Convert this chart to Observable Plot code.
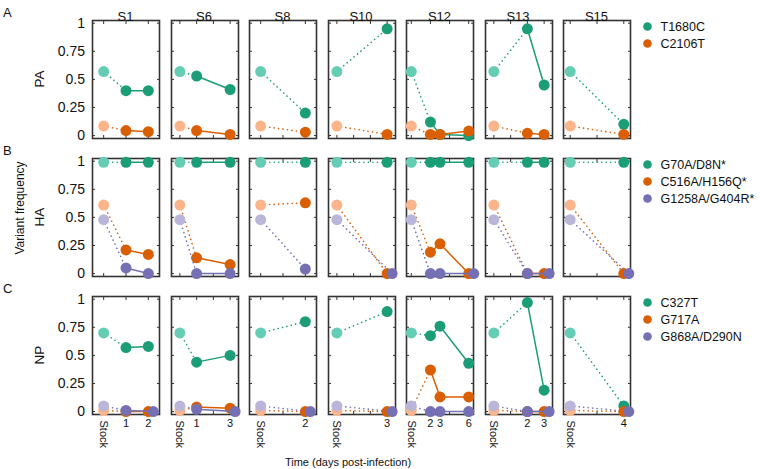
<!DOCTYPE html>
<html><head><meta charset="utf-8">
<script src="https://cdn.jsdelivr.net/npm/d3@7"></script>
<script src="https://cdn.jsdelivr.net/npm/@observablehq/plot@0.6"></script>
<style>
body{margin:0;background:#fff;}
#chart{position:relative;width:760px;height:469px;font-family:"Liberation Sans",Arial,sans-serif;color:#111;overflow:hidden;background:#fff}
.lab{position:absolute;white-space:nowrap;line-height:1}
.rot{transform:translate(-50%,-50%) rotate(-90deg)}
.ctr{transform:translate(-50%,-50%)}
#chart svg{overflow:visible}
</style></head><body><div id="chart"></div>
<script>
// ---- data ----
const samples = ["S1","S6","S8","S10","S12","S13","S15"];
const sampleDays = [[0,1,2],[0,1,3],[0,2],[0,3],[0,2,3,6],[0,2,3],[0,4]];
const genes = ["PA","HA","NP"];
const rowLetters = ["A","B","C"];
const paVariants = ["T1680C","C2106T"];
const haVariants = ["G70A/D8N*","C516A/H156Q*","G1258A/G404R*"];
const npVariants = ["C327T","G717A","G868A/D290N"];
const yTicks = [0,0.25,0.5,0.75,1];
const yTickLabels = ["0","0.25","0.5","0.75","1"];
const xTitle = "Time (days post-infection)";
const yTitle = "Variant frequency";
const stockLabel = "Stock";

// values per sample: [stock, day1, day2, ...]
const paT1680C = [[0.57,0.40,0.40],[0.57,0.53,0.41],[0.57,0.20],[0.57,0.95],[0.57,0.12,0.01,0.0],[0.57,0.95,0.45],[0.57,0.10]];
const paC2106T = [[0.085,0.045,0.035],[0.085,0.045,0.01],[0.085,0.03],[0.085,0.01],[0.085,0.01,0.01,0.04],[0.085,0.02,0.01],[0.085,0.01]];
const haG70A = [[0.99,0.99,0.99],[0.99,0.99,0.99],[0.99,0.99],[0.99,0.99],[0.99,0.99,0.99,0.99],[0.99,0.99,0.99],[0.99,0.99]];
const haC516A = [[0.61,0.21,0.17],[0.61,0.14,0.08],[0.61,0.63],[0.61,0.0],[0.61,0.19,0.265,0.0],[0.61,0.0,0.0],[0.61,0.0]];
const haG1258A = [[0.48,0.05,0.0],[0.48,0.0,0.0],[0.48,0.04],[0.48,0.0],[0.48,0.0,0.0,0.0],[0.48,0.0,0.0],[0.48,0.0]];
const npC327T = [[0.70,0.57,0.58],[0.70,0.44,0.50],[0.70,0.80],[0.70,0.89],[0.70,0.675,0.76,0.43],[0.70,0.97,0.19],[0.70,0.05]];
const npG717A = [[0.01,0.0,0.0],[0.01,0.04,0.03],[0.01,0.0],[0.01,0.0],[0.01,0.37,0.13,0.13],[0.01,0.0,0.0],[0.01,0.0]];
const npG868A = [[0.05,0.01,0.0],[0.05,0.02,0.0],[0.05,0.0],[0.05,0.0],[0.05,0.0,0.0,0.0],[0.05,0.0,0.0],[0.05,0.0]];

const geneVariants = [paVariants, haVariants, npVariants];
const geneValues = [[paT1680C, paC2106T],[haG70A, haC516A, haG1258A],[npC327T, npG717A, npG868A]];

// ---- style ----
const seriesColors = ["#1b9e77","#d95f02","#7570b3"];
const stockColors = ["#66cdb5","#fcb48a","#bab6da"];
const frameColor = "#333333";
const font = "'Liberation Sans', Arial, sans-serif";
const panelLeft0 = 92, panelStep = 78.5, panelW = 67;
const panelTop0 = 20, rowStep = 138, panelH = 118;
const dodgePx = 5;

const chart = document.getElementById("chart");
function addLabel(text, x, y, size, cls) {
  const d = document.createElement("div");
  d.className = "lab " + (cls || "");
  d.textContent = text;
  d.style.left = x + "px"; d.style.top = y + "px"; d.style.fontSize = size + "px";
  chart.appendChild(d);
  return d;
}

genes.forEach((gene, r) => {
  const top = panelTop0 + r * rowStep;
  const variants = geneVariants[r];
  samples.forEach((s, c) => {
    const left = panelLeft0 + c * panelStep;
    const days = sampleDays[c];
    const last = days[days.length - 1];
    const xTicks = d3.range(0, last + 1, last <= 3 ? 1 : 2);
    const mL = c === 0 ? 60 : 8, mR = 8, mT = 8, mB = r === 2 ? 50 : 8;
    const marks = [Plot.frame({stroke: frameColor, strokeWidth: 1.6})];
    marks.push(
      Plot.axisY({anchor: "left", ticks: yTicks, tickSize: 3, dx: 3, tickPadding: 7.5,
        tickFormat: d => yTickLabels[yTicks.indexOf(d)], fill: c === 0 ? "#111" : "none",
        stroke: frameColor, fontSize: 14, label: null}),
      Plot.axisY({anchor: "right", ticks: yTicks, tickSize: 3, dx: -3, fill: "none", stroke: frameColor, label: null}),
      Plot.axisX({anchor: "top", ticks: xTicks, tickSize: 3, dy: 3, fill: "none", stroke: frameColor, label: null}),
      Plot.axisX({anchor: "bottom", ticks: xTicks, tickSize: 3, dy: -3, fill: "none", stroke: frameColor, label: null})
    );
    if (r === 2) {
      marks.push(
        Plot.axisX({anchor: "bottom", ticks: days.slice(1), tickSize: 0, tickPadding: 5, fontSize: 11,
          tickFormat: d => String(d), fill: "#111", label: null}),
        Plot.text([0], {x: d => d, frameAnchor: "bottom", text: () => stockLabel, rotate: 90,
          textAnchor: "start", lineAnchor: "middle", dy: 6, fontSize: 11, fill: "#111"})
      );
    }
    const vals = geneValues[r];
    vals.forEach((series, k) => {
      const v = series[c];
      const rows = v.map((y, i) => {
        let day = days[i];
        if (k === 2 && i === v.length - 1 && Math.abs(y - vals[1][c][i]) < 0.04) {
          day += dodgePx * (last + 1) / panelW;
        }
        return {day, value: y};
      });
      marks.push(
        Plot.line(rows.slice(0, 2), {x: "day", y: "value", stroke: seriesColors[k], strokeWidth: 1.6,
          strokeDasharray: "0.1,4.4", strokeLinecap: "round"}),
        Plot.line(rows.slice(1), {x: "day", y: "value", stroke: seriesColors[k], strokeWidth: 1.5}),
        Plot.dot(rows.slice(0, 1), {x: "day", y: "value", r: 5.5, fill: stockColors[k], stroke: "none"}),
        Plot.dot(rows.slice(1), {x: "day", y: "value", r: 5.5, fill: seriesColors[k], stroke: "none"})
      );
    });
    const svg = Plot.plot({
      width: panelW + mL + mR, height: panelH + mT + mB,
      marginLeft: mL, marginRight: mR, marginTop: mT, marginBottom: mB,
      x: {domain: [-0.5, last + 0.5], axis: null},
      y: {domain: [-0.026, 1.024], axis: null},
      style: {fontFamily: font, fontSize: "13px", color: "#111", background: "transparent", overflow: "visible"},
      marks
    });
    svg.style.position = "absolute";
    svg.style.left = (left - mL) + "px";
    svg.style.top = (top - mT) + "px";
    svg.style.maxWidth = "none";
    chart.appendChild(svg);
    if (r === 0) addLabel(s, left + panelW / 2, 15.5, 13, "ctr");
  });
  // row label, letter
  addLabel(gene, 40, top + panelH / 2, 13.5, "rot");
  addLabel(rowLetters[r], 3, top - 14, 13);
  // legend
  const n = variants.length;
  const leg = Plot.plot({
    width: 120, height: 16 + 17 * (n - 1), margin: 0,
    x: {domain: [0, 1], axis: null},
    y: {type: "point", domain: variants, range: [8, 8 + 17 * (n - 1)], padding: 0, axis: null},
    style: {fontFamily: font, fontSize: "13px", color: "#111", background: "transparent", overflow: "visible"},
    marks: variants.flatMap((v, k) => [
      Plot.dot([v], {y: d => d, frameAnchor: "left", dx: 7, r: 4.3, fill: seriesColors[k], stroke: "none"}),
      Plot.text([v], {y: d => d, frameAnchor: "left", dx: 20, text: d => d, textAnchor: "start", fontSize: 12.5, fill: "#111"})
    ])
  });
  leg.style.position = "absolute";
  leg.style.left = "640px";
  leg.style.top = (top - 2) + "px";
  chart.appendChild(leg);
});
addLabel(yTitle, 20, 208, 12, "rot");
addLabel(xTitle, 348, 462, 11, "ctr");
</script></body></html>
